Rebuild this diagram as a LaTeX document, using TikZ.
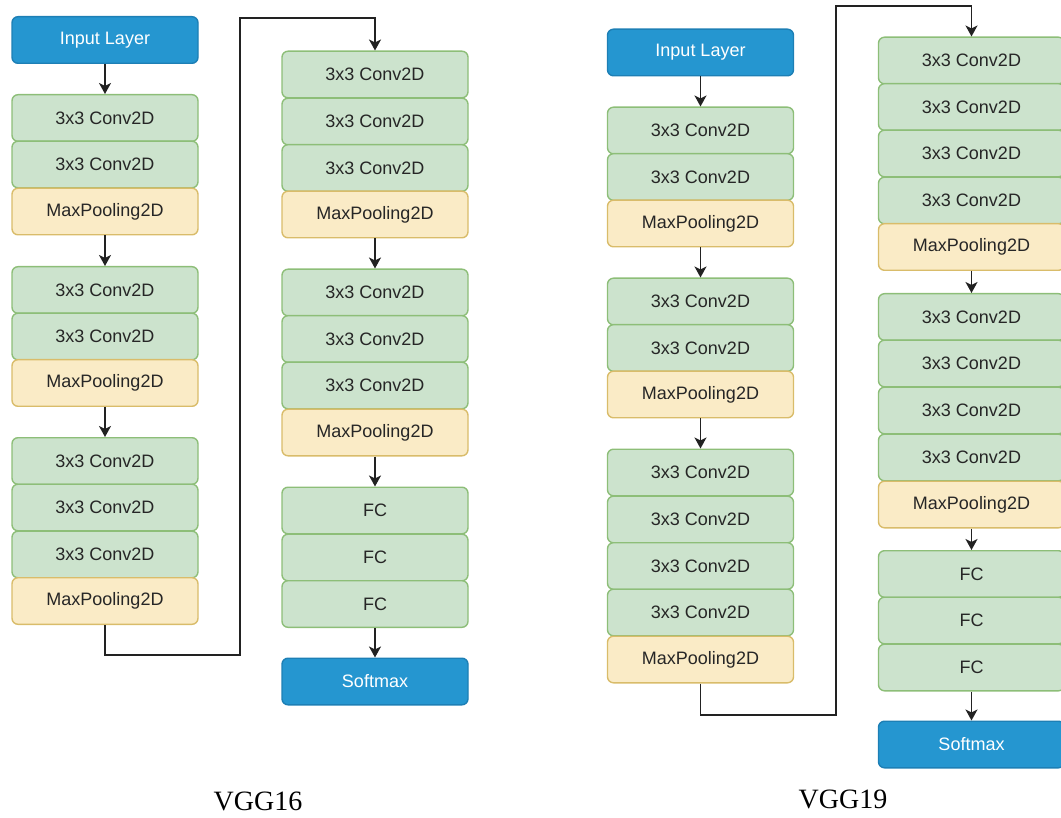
\documentclass[tikz,border=0pt]{standalone}
\usepackage{fontspec}
\setmainfont{Liberation Sans}
\newfontfamily\serifcap{Liberation Serif}
\usetikzlibrary{arrows.meta}
\definecolor{gfill}{HTML}{CCE3CD}
\definecolor{gdraw}{HTML}{8DBE78}
\definecolor{yfill}{HTML}{FAEBC6}
\definecolor{ydraw}{HTML}{D9BC6A}
\definecolor{bfill}{HTML}{2596D0}
\definecolor{bdraw}{HTML}{1D7FB5}
\definecolor{txt}{HTML}{262626}
\definecolor{lin}{HTML}{222222}
\tikzset{
  box/.style={rounded corners=6pt, line width=1.4pt, minimum width=186pt, minimum height=46.6pt, inner sep=0pt,
    font=\fontsize{18}{20}\selectfont, text=txt},
  conv/.style={box, fill=gfill, draw=gdraw},
  pool/.style={box, fill=yfill, draw=ydraw},
  io/.style={box, fill=bfill, draw=bdraw, text=white},
  conn/.style={draw=lin, line width=1.8pt},
  arr/.style={conn, -{Stealth[length=11pt,width=12pt,inset=3pt]}},
  nettitle/.style={font=\serifcap\fontsize{28}{30}\selectfont, text=black}
}
\begin{document}
\begin{tikzpicture}[x=1pt,y=-1pt]
\path[use as bounding box] (0,0) rectangle (1061,818);
\clip (0,0) rectangle (1061,818);
% ---------- VGG16 ----------
\node[io]   (in16) at (105,40) {Input Layer};
\node[conv] (a1) at (105,118) {3x3 Conv2D};
\node[conv] (a2) at (105,164.5) {3x3 Conv2D};
\node[pool] (ap) at (105,211.5) {MaxPooling2D};
\node[conv] (b1) at (105,290) {3x3 Conv2D};
\node[conv] (b2) at (105,336.5) {3x3 Conv2D};
\node[pool] (bp) at (105,383) {MaxPooling2D};
\node[conv] (c1) at (105,461) {3x3 Conv2D};
\node[conv] (c2) at (105,507.5) {3x3 Conv2D};
\node[conv] (c3) at (105,554.5) {3x3 Conv2D};
\node[pool] (cp) at (105,601) {MaxPooling2D};
\node[conv] (d1) at (375,74.5) {3x3 Conv2D};
\node[conv] (d2) at (375,121.5) {3x3 Conv2D};
\node[conv] (d3) at (375,168) {3x3 Conv2D};
\node[pool] (dp) at (375,214.5) {MaxPooling2D};
\node[conv] (e1) at (375,292.5) {3x3 Conv2D};
\node[conv] (e2) at (375,339) {3x3 Conv2D};
\node[conv] (e3) at (375,385.5) {3x3 Conv2D};
\node[pool] (ep) at (375,432.5) {MaxPooling2D};
\node[conv] (f1) at (375,510.5) {FC};
\node[conv] (f2) at (375,557.5) {FC};
\node[conv] (f3) at (375,604) {FC};
\node[io]   (sm16) at (375,681.5) {Softmax};
\draw[arr] (in16) -- (a1);
\draw[arr] (ap) -- (b1);
\draw[arr] (bp) -- (c1);
\coordinate (t1) at (240,655);
\coordinate (t2) at (240,18);
\draw[arr] (cp.south) |- (t1) -- (t2) -| (d1.north);
\draw[arr] (dp) -- (e1);
\draw[arr] (ep) -- (f1);
\draw[arr] (f3) -- (sm16);
\node[nettitle] (l16) at (258,801) {VGG16};
% ---------- VGG19 ----------
\node[io]   (in19) at (700.5,52.5) {Input Layer};
\node[conv] (g1) at (700.5,130.5) {3x3 Conv2D};
\node[conv] (g2) at (700.5,177) {3x3 Conv2D};
\node[pool] (gp) at (700.5,223.5) {MaxPooling2D};
\node[conv] (h1) at (700.5,301.5) {3x3 Conv2D};
\node[conv] (h2) at (700.5,348) {3x3 Conv2D};
\node[pool] (hp) at (700.5,394.5) {MaxPooling2D};
\node[conv] (i1) at (700.5,472.5) {3x3 Conv2D};
\node[conv] (i2) at (700.5,519.5) {3x3 Conv2D};
\node[conv] (i3) at (700.5,566) {3x3 Conv2D};
\node[conv] (i4) at (700.5,612.5) {3x3 Conv2D};
\node[pool] (ip) at (700.5,659.5) {MaxPooling2D};
\node[conv] (j1) at (971.5,60.5) {3x3 Conv2D};
\node[conv] (j2) at (971.5,107) {3x3 Conv2D};
\node[conv] (j3) at (971.5,153.5) {3x3 Conv2D};
\node[conv] (j4) at (971.5,200.5) {3x3 Conv2D};
\node[pool] (jp) at (971.5,247) {MaxPooling2D};
\node[conv] (k1) at (971.5,317) {3x3 Conv2D};
\node[conv] (k2) at (971.5,363.5) {3x3 Conv2D};
\node[conv] (k3) at (971.5,410.5) {3x3 Conv2D};
\node[conv] (k4) at (971.5,457.5) {3x3 Conv2D};
\node[pool] (kp) at (971.5,504.5) {MaxPooling2D};
\node[conv] (m1) at (971.5,574) {FC};
\node[conv] (m2) at (971.5,620.5) {FC};
\node[conv] (m3) at (971.5,667.5) {FC};
\node[io]   (sm19) at (971.5,744.5) {Softmax};
\draw[arr] (in19) -- (g1);
\draw[arr] (gp) -- (h1);
\draw[arr] (hp) -- (i1);
\coordinate (u1) at (836,715);
\coordinate (u2) at (836,6);
\draw[arr] (ip.south) |- (u1) -- (u2) -| (j1.north);
\draw[arr] (jp) -- (k1);
\draw[arr] (kp) -- (m1);
\draw[arr] (m3) -- (sm19);
\node[nettitle] (l19) at (843,799) {VGG19};
\end{tikzpicture}
\end{document}
